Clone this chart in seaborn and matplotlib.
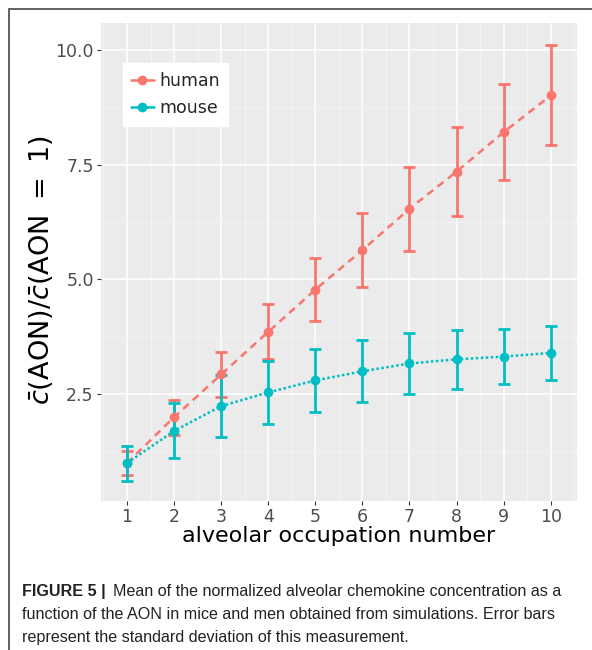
import numpy as np
import pandas as pd
import seaborn as sns
import matplotlib
matplotlib.use("Agg")
import matplotlib.pyplot as plt
from matplotlib.lines import Line2D
from matplotlib.patches import Rectangle
from matplotlib.ticker import MultipleLocator

aon = [1, 2, 3, 4, 5, 6, 7, 8, 9, 10]
human_mean = [1.00, 2.00, 2.93, 3.86, 4.78, 5.64, 6.54, 7.35, 8.21, 9.01]
human_sd = [0.26, 0.38, 0.50, 0.60, 0.69, 0.80, 0.91, 0.97, 1.05, 1.09]
mouse_mean = [1.00, 1.70, 2.24, 2.54, 2.80, 3.00, 3.17, 3.26, 3.32, 3.40]
mouse_sd = [0.38, 0.60, 0.67, 0.69, 0.69, 0.68, 0.67, 0.65, 0.60, 0.58]
species = ["human", "mouse"]
colors = {"human": "#F8766D", "mouse": "#00BFC4"}

df = pd.DataFrame({
    "aon": aon * 2,
    "mean": human_mean + mouse_mean,
    "sd": human_sd + mouse_sd,
    "species": ["human"] * len(aon) + ["mouse"] * len(aon),
})

sns.set_theme(style="darkgrid")
plt.rcParams["font.family"] = ["DejaVu Sans"]
plt.rcParams["mathtext.fontset"] = "dejavusans"

fig = plt.figure(figsize=(5.92, 6.5), dpi=100)
fig.patch.set_facecolor("white")
ax = fig.add_axes([0.170, 0.2297, 0.804, 0.735])
ax.set_facecolor("#EBEBEB")

for sp in species:
    sub = df[df["species"] == sp]
    ax.errorbar(sub["aon"], sub["mean"], yerr=sub["sd"], fmt="none",
                ecolor=colors[sp], elinewidth=2.0, capsize=4.5, capthick=2.0,
                zorder=3)

sns.lineplot(data=df, x="aon", y="mean", hue="species", style="species",
             palette=colors, dashes={"human": (3, 2.2), "mouse": (1, 1)},
             markers={"human": "o", "mouse": "o"}, markersize=7,
             markeredgewidth=0, linewidth=1.8, ax=ax, legend=False, zorder=4)

ax.set_xlim(0.44, 10.55)
ax.set_ylim(0.18, 10.59)
ax.set_xticks(aon)
ax.set_xticklabels([str(v) for v in aon])
ax.set_yticks([2.5, 5.0, 7.5, 10.0])
ax.set_yticklabels(["2.5", "5.0", "7.5", "10.0"])
ax.xaxis.set_minor_locator(MultipleLocator(0.5))
ax.yaxis.set_minor_locator(MultipleLocator(1.25))
ax.grid(which="major", color="white", linewidth=1.1)
ax.grid(which="minor", color="#F5F5F5", linewidth=0.6)
ax.tick_params(axis="both", which="major", length=3, width=0.8, color="#333333",
               labelsize=12.5, labelcolor="#4D4D4D", pad=2)
ax.tick_params(which="minor", length=0)
ax.tick_params(axis="both", which="both", bottom=True, left=True)
for s in ax.spines.values():
    s.set_visible(False)

ax.set_xlabel("alveolar occupation number", fontsize=16, color="black", labelpad=0)
ax.set_ylabel(r"$\bar{c}(\mathrm{AON})/\bar{c}(\mathrm{AON}\ =\ 1)$", fontsize=19.5, color="black")
ax.yaxis.set_label_coords(-0.094, 0.483)

handles = [Line2D([0], [0], color=colors[sp], marker="o", markersize=6,
                  linewidth=1.8, label=sp) for sp in species]
leg = ax.legend(handles=handles, loc="upper left", bbox_to_anchor=(0.046, 0.916),
                borderaxespad=0, fontsize=12.5, frameon=True, facecolor="white",
                edgecolor="white", framealpha=1, handlelength=1.3, handletextpad=0.3,
                borderpad=0.5, labelspacing=0.55, fancybox=False)

fig.patches.append(Rectangle((9 / 592, -0.1), 1.2, 1.1 - 9 / 650, transform=fig.transFigure,
                             fill=False, edgecolor="#555555", linewidth=1.3))

cap_kw = dict(fontsize=11.6, family=["Liberation Sans"], color="#222222", va="baseline")
x0 = 22 / 592
fig.text(x0, 1 - 596 / 650, "FIGURE 5 |", fontweight="bold", **cap_kw)
fig.text(113 / 592, 1 - 596 / 650,
         "Mean of the normalized alveolar chemokine concentration as a", **cap_kw)
fig.text(x0, 1 - 619 / 650,
         "function of the AON in mice and men obtained from simulations. Error bars", **cap_kw)
fig.text(x0, 1 - 642 / 650, "represent the standard deviation of this measurement.", **cap_kw)

fig.savefig("out.png", dpi=100)
